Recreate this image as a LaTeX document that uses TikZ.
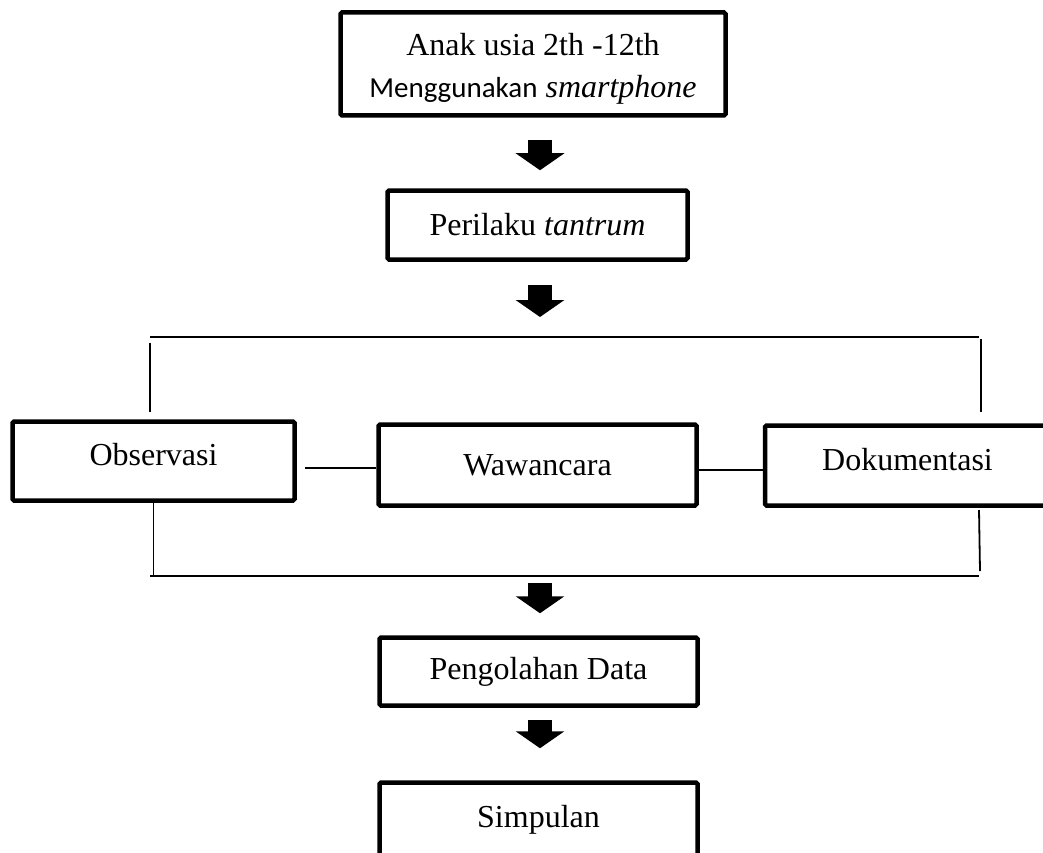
\documentclass[tikz,border=0pt]{standalone}
\usepackage{fontspec}
\setmainfont{Liberation Serif}
\newfontfamily\calibri{Carlito}
\usetikzlibrary{arrows.meta,positioning}
\tikzset{
  kotak/.style={draw, line width=4.5pt, rounded corners=1.5pt, inner sep=0pt,
    align=center, font=\fontsize{32}{42}\selectfont},
  panah/.style={line width=24pt, -{Triangle[width=48pt,length=17pt]}},
  garis/.style={line width=1.8pt},
}
\begin{document}
\begin{tikzpicture}[x=1pt,y=-1pt]
  \useasboundingbox (0,0) rectangle (1043,853);
  \clip (0,0) rectangle (1043,853);
  % kotak-kotak
  \node[kotak, minimum width=385pt, minimum height=103pt] (anak) at (533,64)
    {\rule{0pt}{32pt}Anak usia 2th -12th\\{\calibri\fontsize{29}{42}\selectfont Menggunakan} \textit{smartphone}};
  \node[kotak, minimum width=300pt, minimum height=69pt] (tantrum) at (537.5,225) {Perilaku \textit{tantrum}};
  \node[kotak, minimum width=282pt, minimum height=79pt, text depth=14pt] (obs) at (153.5,461) {Observasi};
  \node[kotak, minimum width=318pt, minimum height=81pt] (waw) at (537.5,465) {Wawancara};
  \node[kotak, minimum width=285pt, minimum height=80pt, text depth=12pt] (dok) at (907.5,465.5) {Dokumentasi};
  \node[kotak, minimum width=318pt, minimum height=68pt] (olah) at (538.5,671.5) {Pengolahan Data};
  \node[kotak, minimum width=318pt, minimum height=75pt] (simp) at (538.5,820) {Simpulan};
  % titik bantu
  \coordinate (sumbu) at (540,0);
  \coordinate (atas) at (540,337);
  \coordinate (bawah) at (540,576);
  \coordinate (kiriatas) at (150,337);
  \coordinate (kananatas) at (979,337);
  \coordinate (kiribawah) at (150,576);
  \coordinate (kananbawah) at (979,576);
  % kurung
  \draw[garis] (kiriatas) -- (kananatas);
  \draw[garis] (150,343) -- (150,412);
  \draw[garis] (981,339) -- (981,412);
  \draw[garis] (kiribawah) -- (kananbawah);
  \draw[garis] (obs.south) -- (obs.south |- kiribawah);
  \draw[garis] (979,510) -- (980,571);
  \draw[garis] ([xshift=8pt,yshift=-7pt]obs.east) -- ([yshift=-3pt]waw.west);
  \draw[garis] ([yshift=-5pt]waw.east) -- ([yshift=-4.5pt]dok.west);
  % panah
  \draw[panah, shorten <=22pt, shorten >=18pt] (anak.south -| sumbu) -- (tantrum.north -| sumbu);
  \draw[panah, shorten <=23pt, shorten >=20pt] (tantrum.south -| sumbu) -- (atas);
  \draw[panah, shorten <=7pt, shorten >=22pt] (bawah) -- (olah.north -| sumbu);
  \draw[panah, shorten <=12pt, shorten >=32pt] (olah.south -| sumbu) -- (simp.north -| sumbu);
\end{tikzpicture}
\end{document}
